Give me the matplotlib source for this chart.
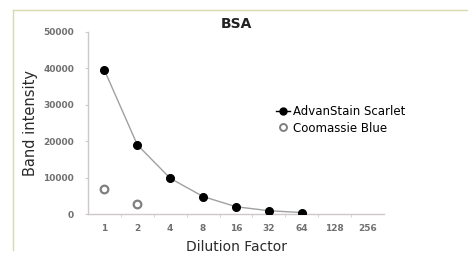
import matplotlib.pyplot as plt
from matplotlib.lines import Line2D
import numpy as np

# dilution series (categorical, log2 spacing)
dilutions = ["1", "2", "4", "8", "16", "32", "64", "128", "256"]
scarlet = [39500, 19000, 9800, 4800, 2000, 900, 400]
coomassie = [6800, 2700]
y_ticks = [0, 10000, 20000, 30000, 40000, 50000]

fig = plt.figure(figsize=(4.68, 2.62), dpi=100)
ax = fig.add_axes([88 / 468, 1 - 214 / 262, 296 / 468, 182 / 262])

pos = np.arange(len(dilutions))
ax.plot(pos[:len(scarlet)], scarlet, '-', color='#a0a0a0', linewidth=1, zorder=1)
ax.plot(pos[:len(scarlet)], scarlet, 'o', color='black', markersize=5.5, zorder=3,
        label="AdvanStain Scarlet")
ax.plot(pos[:len(coomassie)], coomassie, 'o', markerfacecolor='white',
        markeredgecolor='#808080', markeredgewidth=1.6, markersize=5.5, linestyle='none',
        zorder=3, label="Coomassie Blue")

ax.set_xlim(-0.5, len(dilutions) - 0.5)
ax.set_ylim(0, 50000)
ax.set_xticks(pos)
ax.set_xticklabels(dilutions)
ax.set_xticks(pos[:-1] + 0.5, minor=True)
ax.set_yticks(y_ticks)
ax.set_yticklabels([str(v) for v in y_ticks])
ax.tick_params(axis='x', which='major', length=0, pad=7, labelsize=6.5, labelcolor='#707070')
ax.tick_params(axis='x', which='minor', length=2, color='#cccccc')
ax.tick_params(axis='y', length=2, color='#cccccc', pad=8, labelsize=6.5, labelcolor='#707070')
for lbl in ax.get_xticklabels() + ax.get_yticklabels():
    lbl.set_fontweight('bold')

for s in ['top', 'right']:
    ax.spines[s].set_visible(False)
for s in ['left', 'bottom']:
    ax.spines[s].set_color('#d0c8c8')
    ax.spines[s].set_linewidth(1)

ax.set_title("BSA", fontsize=10, fontweight='bold', color='#222222', pad=0, y=1.02)
ax.set_ylabel("Band intensity", fontsize=10.5, color='#2a2a2a', labelpad=4)
ax.set_xlabel("Dilution Factor", fontsize=10, color='#2a2a2a', labelpad=5)

handles = [
    Line2D([], [], color='black', marker='o', markersize=5, linewidth=1),
    Line2D([], [], marker='o', markerfacecolor='white', markeredgecolor='#808080',
           markeredgewidth=1.4, markersize=5, linestyle='none'),
]
ax.legend(handles, ["AdvanStain Scarlet", "Coomassie Blue"], loc='upper left',
          bbox_to_anchor=(0.62, 0.625), frameon=False, fontsize=8.5, handlelength=1.2,
          handletextpad=0.2, labelspacing=0.3, borderaxespad=0)

# thin frame lines at top and left of the panel
fig.add_artist(Line2D([13 / 468, 1], [1 - 10 / 262, 1 - 10 / 262], color='#d8dbb0', linewidth=1))
fig.add_artist(Line2D([13 / 468, 13 / 468], [1 - 10 / 262, 1 - 250 / 262], color='#d8dbb0', linewidth=1))

fig.savefig("out.png", dpi=100)
